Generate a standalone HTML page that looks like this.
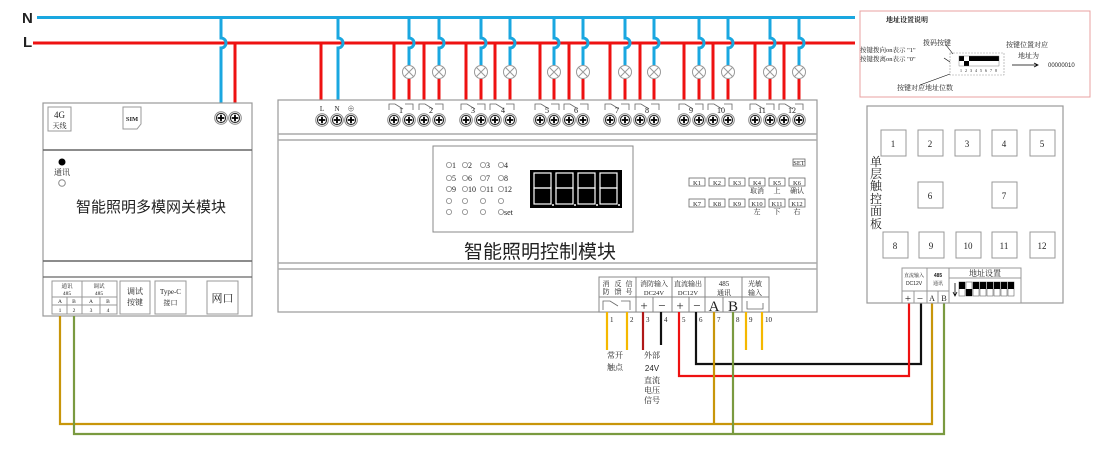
<!DOCTYPE html>
<html><head><meta charset="utf-8"><style>
html,body{margin:0;padding:0;background:#fff}
svg{display:block}
text{font-family:"Liberation Serif","Noto Serif CJK SC",serif;fill:#222}
.s{font-family:"Liberation Sans","Noto Sans CJK SC",sans-serif}
</style></head><body>
<svg width="1100" height="454" viewBox="0 0 1100 454" xmlns="http://www.w3.org/2000/svg">
<defs>
<g id="t"><circle r="6.3" fill="#fff" stroke="#888" stroke-width="1"/><circle r="4.6" fill="#fff" stroke="#222" stroke-width="1"/><path d="M-3.3 0H3.3M0 -3.3V3.3" stroke="#000" stroke-width="1.8"/></g>
<g id="lamp"><circle r="6.5" fill="#fff" stroke="#999" stroke-width="1"/><path d="M-4.5 -4.5L4.5 4.5M4.5 -4.5L-4.5 4.5" stroke="#999" stroke-width="1"/></g>
</defs>

<!-- N / L buses -->
<text x="22" y="23" class="s" font-size="15" font-weight="bold" fill="#111">N</text>
<text x="23" y="47" class="s" font-size="15" font-weight="bold" fill="#111">L</text>
<line x1="37" y1="17.5" x2="855" y2="17.5" stroke="#1aa7e0" stroke-width="3"/>
<line x1="33" y1="43" x2="855" y2="43" stroke="#ee1111" stroke-width="3"/>

<!-- gateway drops -->
<path d="M221 17V38a5 5 0 0 1 0 10V108" fill="none" stroke="#1aa7e0" stroke-width="3"/>
<line x1="235" y1="43" x2="235" y2="108" stroke="#ee1111" stroke-width="3"/>
<!-- module L/N drops -->
<line x1="321" y1="43" x2="321" y2="100" stroke="#ee1111" stroke-width="3"/>
<path d="M338 17V38a5 5 0 0 1 0 10V100" fill="none" stroke="#1aa7e0" stroke-width="3"/>

<!-- channel wiring -->
<g stroke-width="3" fill="none">
<g stroke="#ee1111">
<path d="M394 43V105M424 43V105M466 43V105M495 43V105M540 43V105M569 43V105M610 43V105M640 43V105M684 43V105M713 43V105M755 43V105M784 43V105"/>
<path d="M409 79V105M439 79V105M481 79V105M510 79V105M554 79V105M583 79V105M625 79V105M654 79V105M699 79V105M728 79V105M770 79V105M799 79V105"/>
</g>
<g stroke="#1aa7e0">
<path d="M409 17V38a5 5 0 0 1 0 10V65M439 17V38a5 5 0 0 1 0 10V65M481 17V38a5 5 0 0 1 0 10V65M510 17V38a5 5 0 0 1 0 10V65M554 17V38a5 5 0 0 1 0 10V65M583 17V38a5 5 0 0 1 0 10V65M625 17V38a5 5 0 0 1 0 10V65M654 17V38a5 5 0 0 1 0 10V65M699 17V38a5 5 0 0 1 0 10V65M728 17V38a5 5 0 0 1 0 10V65M770 17V38a5 5 0 0 1 0 10V65M799 17V38a5 5 0 0 1 0 10V65"/>
</g>
</g>
<g>
<use href="#lamp" x="409" y="72"/><use href="#lamp" x="439" y="72"/><use href="#lamp" x="481" y="72"/><use href="#lamp" x="510" y="72"/><use href="#lamp" x="554" y="72"/><use href="#lamp" x="583" y="72"/><use href="#lamp" x="625" y="72"/><use href="#lamp" x="654" y="72"/><use href="#lamp" x="699" y="72"/><use href="#lamp" x="728" y="72"/><use href="#lamp" x="770" y="72"/><use href="#lamp" x="799" y="72"/>
</g>

<!-- GATEWAY -->
<rect x="43" y="103" width="209" height="213" fill="#fff" stroke="#999" stroke-width="1.2"/>
<line x1="43" y1="150" x2="252" y2="150" stroke="#666" stroke-width="1.5"/>
<line x1="43" y1="261" x2="252" y2="261" stroke="#666" stroke-width="1.5"/>
<line x1="43" y1="277" x2="252" y2="277" stroke="#666" stroke-width="1.2"/>
<rect x="48" y="107" width="23" height="24" fill="#fff" stroke="#999"/>
<text x="59.5" y="118" font-size="9" text-anchor="middle">4G</text>
<text x="59.5" y="128" font-size="7" text-anchor="middle">天线</text>
<path d="M123 107H141V124L137 129H123Z" fill="#fff" stroke="#999"/>
<text x="132" y="121" font-size="6.5" text-anchor="middle" font-weight="bold">SIM</text>
<use href="#t" x="221" y="118"/><use href="#t" x="235" y="118"/>
<circle cx="62" cy="162" r="3.5" fill="#000"/>
<text x="62" y="175" font-size="8" text-anchor="middle">通讯</text>
<circle cx="62" cy="183" r="3.3" fill="#fff" stroke="#888"/>
<text x="151" y="212" font-size="15" text-anchor="middle" class="s" fill="#333">智能照明多模网关模块</text>
<rect x="52" y="281" width="65" height="33" fill="#fff" stroke="#999"/>
<line x1="82" y1="281" x2="82" y2="314" stroke="#999"/>
<line x1="52" y1="297" x2="117" y2="297" stroke="#999"/>
<line x1="52" y1="305" x2="117" y2="305" stroke="#999"/>
<line x1="67" y1="297" x2="67" y2="314" stroke="#999"/><line x1="100" y1="297" x2="100" y2="314" stroke="#999"/>
<g font-size="5.5" text-anchor="middle"><text x="67" y="288">通讯</text><text x="67" y="295">485</text><text x="99" y="288">调试</text><text x="99" y="295">485</text>
<text x="60" y="303">A</text><text x="74" y="303">B</text><text x="91" y="303">A</text><text x="108" y="303">B</text>
<text x="60" y="312">1</text><text x="74" y="312">2</text><text x="91" y="312">3</text><text x="108" y="312">4</text></g>
<rect x="120" y="281" width="30" height="33" fill="#fff" stroke="#999"/>
<text x="135" y="294" font-size="8" text-anchor="middle">调试</text><text x="135" y="305" font-size="8" text-anchor="middle">按键</text>
<rect x="155" y="281" width="31" height="33" fill="#fff" stroke="#999"/>
<text x="170.5" y="294" font-size="7" text-anchor="middle">Type-C</text><text x="170.5" y="305" font-size="7" text-anchor="middle">接口</text>
<rect x="207" y="281" width="31" height="33" fill="#fff" stroke="#999"/>
<text x="222.5" y="302" font-size="11" text-anchor="middle">网口</text>

<!-- MODULE -->
<rect x="278" y="100" width="539" height="212" fill="#fff" stroke="#999" stroke-width="1.2"/>
<line x1="278" y1="134" x2="817" y2="134" stroke="#aaa" stroke-width="1.5"/>
<line x1="278" y1="140" x2="817" y2="140" stroke="#aaa" stroke-width="1.5"/>
<line x1="278" y1="263" x2="817" y2="263" stroke="#aaa" stroke-width="1.5"/>
<line x1="278" y1="269" x2="817" y2="269" stroke="#aaa" stroke-width="1.5"/>
<g class="s" font-size="7" text-anchor="middle"><text x="322" y="111">L</text><text x="337" y="111">N</text><text x="351" y="111">⊕</text></g>
<use href="#t" x="322" y="120"/><use href="#t" x="337" y="120"/><use href="#t" x="351" y="120"/>
<!-- channel terminals -->
<g>
<use href="#t" x="394" y="120"/><use href="#t" x="409" y="120"/><use href="#t" x="424" y="120"/><use href="#t" x="439" y="120"/>
<use href="#t" x="466" y="120"/><use href="#t" x="481" y="120"/><use href="#t" x="495" y="120"/><use href="#t" x="510" y="120"/>
<use href="#t" x="540" y="120"/><use href="#t" x="554" y="120"/><use href="#t" x="569" y="120"/><use href="#t" x="583" y="120"/>
<use href="#t" x="610" y="120"/><use href="#t" x="625" y="120"/><use href="#t" x="640" y="120"/><use href="#t" x="654" y="120"/>
<use href="#t" x="684" y="120"/><use href="#t" x="699" y="120"/><use href="#t" x="713" y="120"/><use href="#t" x="728" y="120"/>
<use href="#t" x="755" y="120"/><use href="#t" x="770" y="120"/><use href="#t" x="784" y="120"/><use href="#t" x="799" y="120"/>
</g>
<g fill="none" stroke="#666" stroke-width="0.8">
<path d="M389 110V104H395L403 109M405 104H413V110"/><path d="M419 110V104H425L433 109M435 104H443V110"/>
<path d="M461 110V104H467L475 109M477 104H485V110"/><path d="M490 110V104H496L504 109M506 104H514V110"/>
<path d="M535 110V104H541L549 109M551 104H559V110"/><path d="M564 110V104H570L578 109M580 104H588V110"/>
<path d="M605 110V104H611L619 109M621 104H629V110"/><path d="M635 110V104H641L649 109M651 104H659V110"/>
<path d="M679 110V104H685L693 109M695 104H703V110"/><path d="M708 110V104H714L722 109M724 104H732V110"/>
<path d="M750 110V104H756L764 109M766 104H774V110"/><path d="M779 110V104H785L793 109M795 104H803V110"/>
</g>
<g class="s" font-size="8" text-anchor="middle">
<text x="401" y="113">1</text><text x="431" y="113">2</text><text x="473" y="113">3</text><text x="503" y="113">4</text><text x="547" y="113">5</text><text x="576" y="113">6</text><text x="617" y="113">7</text><text x="647" y="113">8</text><text x="691" y="113">9</text><text x="721" y="113">10</text><text x="762" y="113">11</text><text x="792" y="113">12</text>
</g>
<!-- display -->
<rect x="433" y="146" width="200" height="86" fill="#fff" stroke="#888"/>
<g fill="none" stroke="#888" stroke-width="0.8">
<circle cx="449" cy="165" r="2.6"/><circle cx="465" cy="165" r="2.6"/><circle cx="483" cy="165" r="2.6"/><circle cx="501" cy="165" r="2.6"/>
<circle cx="449" cy="178" r="2.6"/><circle cx="465" cy="178" r="2.6"/><circle cx="483" cy="178" r="2.6"/><circle cx="501" cy="178" r="2.6"/>
<circle cx="449" cy="189" r="2.6"/><circle cx="465" cy="189" r="2.6"/><circle cx="483" cy="189" r="2.6"/><circle cx="501" cy="189" r="2.6"/>
<circle cx="449" cy="201" r="2.6"/><circle cx="465" cy="201" r="2.6"/><circle cx="483" cy="201" r="2.6"/><circle cx="501" cy="201" r="2.6"/>
<circle cx="449" cy="212" r="2.6"/><circle cx="465" cy="212" r="2.6"/><circle cx="483" cy="212" r="2.6"/><circle cx="501" cy="212" r="2.6"/>
</g>
<g class="s" font-size="8">
<text x="452" y="168">1</text><text x="468" y="168">2</text><text x="486" y="168">3</text><text x="504" y="168">4</text>
<text x="452" y="181">5</text><text x="468" y="181">6</text><text x="486" y="181">7</text><text x="504" y="181">8</text>
<text x="452" y="192">9</text><text x="468" y="192">10</text><text x="486" y="192">11</text><text x="504" y="192">12</text>
<text x="504" y="215">set</text></g>
<rect x="530" y="170" width="92" height="38" fill="#000"/>
<g fill="none" stroke="#fff" stroke-width="1.2">
<rect x="534" y="173" width="17" height="15"/><rect x="534" y="188" width="17" height="16"/>
<rect x="556" y="173" width="17" height="15"/><rect x="556" y="188" width="17" height="16"/>
<rect x="578" y="173" width="17" height="15"/><rect x="578" y="188" width="17" height="16"/>
<rect x="600" y="173" width="17" height="15"/><rect x="600" y="188" width="17" height="16"/>
</g>
<g fill="#fff"><circle cx="553" cy="205" r="1"/><circle cx="575" cy="205" r="1"/><circle cx="597" cy="205" r="1"/><circle cx="619" cy="205" r="1"/></g>
<text x="540" y="258" font-size="19" text-anchor="middle" class="s" fill="#222">智能照明控制模块</text>
<!-- keys -->
<g fill="#fff" stroke="#666" stroke-width="0.8">
<rect x="793" y="159" width="12" height="7"/>
<rect x="689" y="178" width="16" height="8"/><rect x="709" y="178" width="16" height="8"/><rect x="729" y="178" width="16" height="8"/><rect x="749" y="178" width="16" height="8"/><rect x="769" y="178" width="16" height="8"/><rect x="789" y="178" width="16" height="8"/>
<rect x="689" y="199" width="16" height="8"/><rect x="709" y="199" width="16" height="8"/><rect x="729" y="199" width="16" height="8"/><rect x="749" y="199" width="16" height="8"/><rect x="769" y="199" width="16" height="8"/><rect x="789" y="199" width="16" height="8"/>
</g>
<g class="s" font-size="6.5" text-anchor="middle">
<text x="799" y="165">SET</text>
<text x="697" y="185">K1</text><text x="717" y="185">K2</text><text x="737" y="185">K3</text><text x="757" y="185">K4</text><text x="777" y="185">K5</text><text x="797" y="185">K6</text>
<text x="697" y="206">K7</text><text x="717" y="206">K8</text><text x="737" y="206">K9</text><text x="757" y="206">K10</text><text x="777" y="206">K11</text><text x="797" y="206">K12</text></g>
<g font-size="7" text-anchor="middle"><text x="757" y="193">取消</text><text x="777" y="193">上</text><text x="797" y="193">确认</text><text x="757" y="214">左</text><text x="777" y="214">下</text><text x="797" y="214">右</text></g>
<!-- bottom terminal block -->
<rect x="599" y="277" width="170" height="35" fill="#fff" stroke="#888"/>
<line x1="599" y1="297" x2="769" y2="297" stroke="#888"/>
<g stroke="#888"><line x1="636" y1="277" x2="636" y2="312"/><line x1="672" y1="277" x2="672" y2="312"/><line x1="705" y1="277" x2="705" y2="312"/><line x1="742" y1="277" x2="742" y2="312"/>
<line x1="653" y1="297" x2="653" y2="312"/><line x1="689" y1="297" x2="689" y2="312"/><line x1="723" y1="297" x2="723" y2="312"/></g>
<g font-size="7" text-anchor="middle"><text x="606" y="286">消</text><text x="606" y="294">防</text><text x="618" y="286">反</text><text x="618" y="294">馈</text><text x="629" y="286">信</text><text x="629" y="294">号</text>
<text x="654" y="286">消防输入</text><text x="688" y="286">直流输出</text><text x="724" y="286">485</text><text x="724" y="295">通讯</text><text x="755" y="286">光敏</text><text x="755" y="295">输入</text></g>
<g class="s" font-size="6.5" text-anchor="middle"><text x="654" y="295">DC24V</text><text x="688" y="295">DC12V</text></g>
<path d="M603 310V301H610L618 306M621 301H630V310" fill="none" stroke="#666" stroke-width="0.8"/>
<path d="M747 301V309H763V303" fill="none" stroke="#666" stroke-width="0.8"/>
<g class="s" text-anchor="middle"><text x="644" y="310" font-size="13">+</text><text x="662" y="310" font-size="13">−</text><text x="680" y="310" font-size="13">+</text><text x="697" y="310" font-size="13">−</text><text x="714" y="311" font-size="15">A</text><text x="733" y="311" font-size="15">B</text></g>

<!-- bottom wires -->
<g fill="none" stroke-width="2.2">
<path d="M607 312V350M627 312V350M746 312V350M762 312V350" stroke="#f5b800"/>
<path d="M643 312V350" stroke="#b01818"/>
<path d="M661 312V345M696 312V364H921V303" stroke="#111"/>
<path d="M679 312V376H909V303" stroke="#ee1111"/>
<path d="M60 316V424H932V303M714 312V424" stroke="#c8960a"/>
<path d="M74 316V434H944V303M733 312V434" stroke="#7a9a40"/>
</g>
<g class="s" font-size="7"><text x="610" y="322">1</text><text x="630" y="322">2</text><text x="646" y="322">3</text><text x="664" y="322">4</text><text x="682" y="322">5</text><text x="699" y="322">6</text><text x="717" y="322">7</text><text x="736" y="322">8</text><text x="749" y="322">9</text><text x="765" y="322">10</text></g>
<g font-size="8" text-anchor="middle" fill="#333"><text x="615" y="358">常开</text><text x="615" y="370">触点</text>
<text x="652" y="358">外部</text><text x="652" y="383">直流</text><text x="652" y="393">电压</text><text x="652" y="403">信号</text></g>
<text x="652" y="371" class="s" font-size="8" text-anchor="middle">24V</text>

<!-- PANEL -->
<rect x="867" y="106" width="196" height="197" fill="#fff" stroke="#999" stroke-width="1.2"/>
<g fill="#fff" stroke="#999"><rect x="881" y="130" width="25" height="26"/><rect x="918" y="130" width="25" height="26"/><rect x="955" y="130" width="25" height="26"/><rect x="992" y="130" width="25" height="26"/><rect x="1030" y="130" width="25" height="26"/>
<rect x="918" y="182" width="25" height="26"/><rect x="992" y="182" width="25" height="26"/>
<rect x="883" y="232" width="25" height="26"/><rect x="919" y="232" width="25" height="26"/><rect x="956" y="232" width="25" height="26"/><rect x="992" y="232" width="25" height="26"/><rect x="1030" y="232" width="25" height="26"/></g>
<g class="s" font-size="9" text-anchor="middle"><text x="893" y="147">1</text><text x="930" y="147">2</text><text x="967" y="147">3</text><text x="1004" y="147">4</text><text x="1042" y="147">5</text><text x="930" y="199">6</text><text x="1004" y="199">7</text><text x="895" y="249">8</text><text x="931" y="249">9</text><text x="968" y="249">10</text><text x="1004" y="249">11</text><text x="1042" y="249">12</text></g>
<g font-size="12" text-anchor="middle"><text x="876" y="166">单</text><text x="876" y="178">层</text><text x="876" y="190">触</text><text x="876" y="203">控</text><text x="876" y="215">面</text><text x="876" y="228">板</text></g>
<rect x="902" y="268" width="119" height="35" fill="#fff" stroke="#999"/>
<g stroke="#999"><line x1="927" y1="268" x2="927" y2="303"/><line x1="949" y1="268" x2="949" y2="303"/><line x1="938" y1="291" x2="938" y2="303"/><line x1="902" y1="291" x2="949" y2="291"/><line x1="914" y1="291" x2="914" y2="303"/><line x1="949" y1="278" x2="1021" y2="278"/></g>
<g font-size="5" text-anchor="middle"><text x="914" y="277">直流输入</text><text x="938" y="277" class="s" font-weight="bold">485</text><text x="938" y="285">通讯</text></g>
<text x="914" y="285" class="s" font-size="5" text-anchor="middle">DC12V</text>
<text x="985" y="276" font-size="8" text-anchor="middle">地址设置</text>
<g class="s" text-anchor="middle"><text x="908" y="302" font-size="11">+</text><text x="920" y="302" font-size="11">−</text><text x="932" y="301" font-size="8">A</text><text x="944" y="301" font-size="8">B</text></g>
<g stroke="#666" stroke-width="0.6" fill="#fff">
<rect x="959" y="282" width="6" height="14"/><rect x="966" y="282" width="6" height="14"/><rect x="973" y="282" width="6" height="14"/><rect x="980" y="282" width="6" height="14"/><rect x="987" y="282" width="6" height="14"/><rect x="994" y="282" width="6" height="14"/><rect x="1001" y="282" width="6" height="14"/><rect x="1008" y="282" width="6" height="14"/></g>
<g fill="#000"><rect x="959" y="282" width="6" height="7"/><rect x="966" y="289" width="6" height="7"/><rect x="973" y="282" width="6" height="7"/><rect x="980" y="282" width="6" height="7"/><rect x="987" y="282" width="6" height="7"/><rect x="994" y="282" width="6" height="7"/><rect x="1001" y="282" width="6" height="7"/><rect x="1008" y="282" width="6" height="7"/></g>
<path d="M955 283V295M953 292L955 296L957 292" stroke="#000" fill="none" stroke-width="0.8"/>

<!-- ADDRESS NOTE -->
<rect x="860" y="11" width="230" height="86" fill="#fff" stroke="#e8a0a0" stroke-width="1"/>
<text x="886" y="22" font-size="7" fill="#e01010" font-weight="bold">地址设置说明</text>
<text x="923" y="45" font-size="7">拨码按键</text>
<text x="860" y="52" font-size="6.5">按键拨向on表示 "1"</text>
<text x="860" y="61" font-size="6.5">按键拨离on表示 "0"</text>
<text x="1006" y="47" font-size="7">按键位置对应</text>
<text x="1018" y="58" font-size="7">地址为</text>
<text x="1048" y="67" class="s" font-size="6">00000010</text>
<text x="897" y="90" font-size="7">按键对应地址位数</text>
<path d="M1012 65H1037M1034 63L1038 65L1034 67" stroke="#000" fill="none" stroke-width="0.8"/>
<path d="M946 45L953 54M944 58L950 62M920 85L950 74" stroke="#000" fill="none" stroke-width="0.6"/>
<rect x="950" y="53" width="54" height="22" fill="none" stroke="#999" stroke-width="0.6" stroke-dasharray="2 1"/>
<g fill="#000"><rect x="959" y="56" width="5" height="5"/><rect x="964" y="61" width="5" height="5"/><rect x="969" y="56" width="5" height="5"/><rect x="974" y="56" width="5" height="5"/><rect x="979" y="56" width="5" height="5"/><rect x="984" y="56" width="5" height="5"/><rect x="989" y="56" width="5" height="5"/><rect x="994" y="56" width="5" height="5"/></g>
<g fill="none" stroke="#666" stroke-width="0.4"><rect x="959" y="56" width="40" height="10"/></g>
<g class="s" font-size="4" text-anchor="middle"><text x="961" y="72">1</text><text x="966" y="72">2</text><text x="971" y="72">3</text><text x="976" y="72">4</text><text x="981" y="72">5</text><text x="986" y="72">6</text><text x="991" y="72">7</text><text x="996" y="72">8</text></g>
</svg>
</body></html>
